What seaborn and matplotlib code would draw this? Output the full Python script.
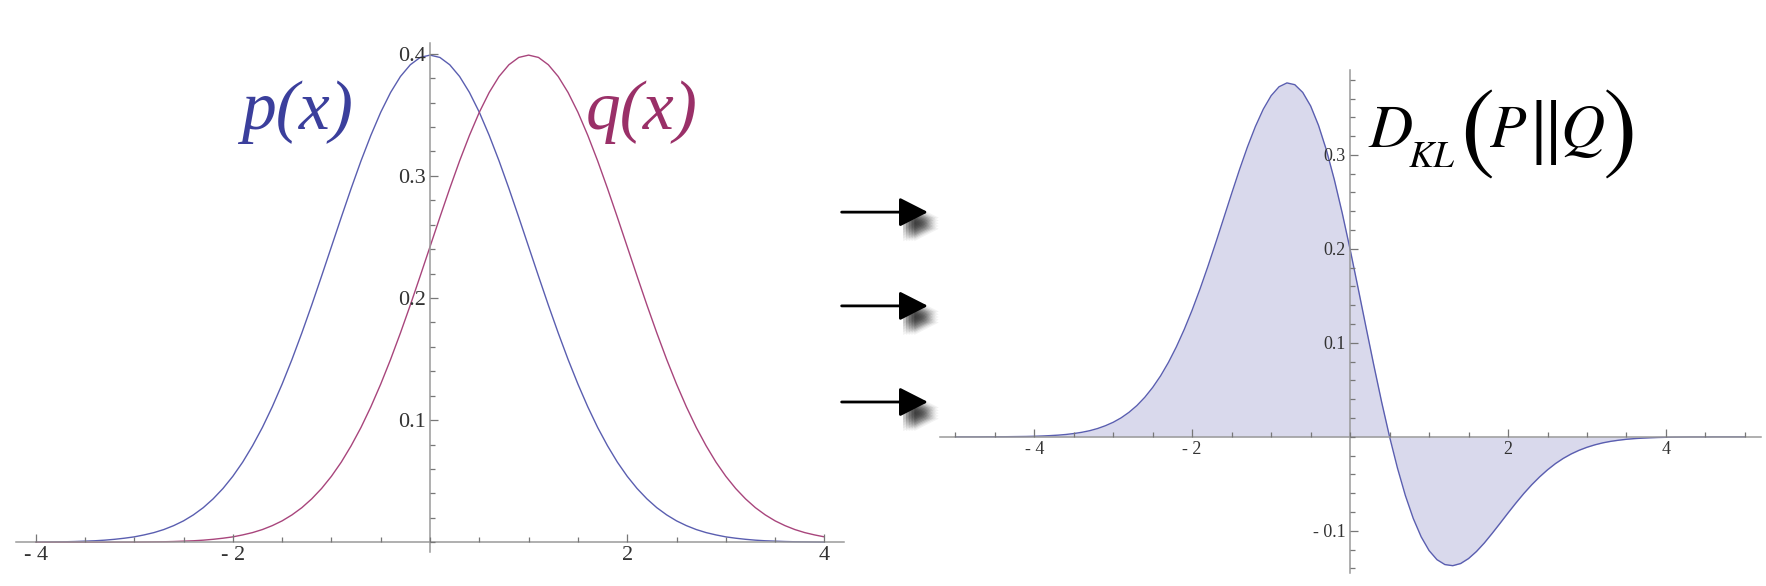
import numpy as np
import pandas as pd
import matplotlib
matplotlib.use("Agg")
import matplotlib.pyplot as plt
import matplotlib.patheffects as pe
from matplotlib.patches import FancyArrowPatch
from matplotlib.ticker import FixedLocator, MultipleLocator
import seaborn as sns

# ---- dados ----
x_esq = [-4.0, -3.9, -3.8, -3.7, -3.6, -3.5, -3.4, -3.3, -3.2, -3.1,
         -3.0, -2.9, -2.8, -2.7, -2.6, -2.5, -2.4, -2.3, -2.2, -2.1,
         -2.0, -1.9, -1.8, -1.7, -1.6, -1.5, -1.4, -1.3, -1.2, -1.1,
         -1.0, -0.9, -0.8, -0.7, -0.6, -0.5, -0.4, -0.3, -0.2, -0.1,
         0.0, 0.1, 0.2, 0.3, 0.4, 0.5, 0.6, 0.7, 0.8, 0.9,
         1.0, 1.1, 1.2, 1.3, 1.4, 1.5, 1.6, 1.7, 1.8, 1.9,
         2.0, 2.1, 2.2, 2.3, 2.4, 2.5, 2.6, 2.7, 2.8, 2.9,
         3.0, 3.1, 3.2, 3.3, 3.4, 3.5, 3.6, 3.7, 3.8, 3.9, 4.0]
p_x = [0.0001, 0.0002, 0.0003, 0.0004, 0.0006, 0.0009, 0.0012, 0.0017, 0.0024, 0.0033,
       0.0044, 0.0060, 0.0079, 0.0104, 0.0136, 0.0175, 0.0224, 0.0283, 0.0355, 0.0440,
       0.0540, 0.0656, 0.0790, 0.0940, 0.1109, 0.1295, 0.1497, 0.1714, 0.1942, 0.2179,
       0.2420, 0.2661, 0.2897, 0.3123, 0.3332, 0.3521, 0.3683, 0.3814, 0.3910, 0.3970,
       0.3989, 0.3970, 0.3910, 0.3814, 0.3683, 0.3521, 0.3332, 0.3123, 0.2897, 0.2661,
       0.2420, 0.2179, 0.1942, 0.1714, 0.1497, 0.1295, 0.1109, 0.0940, 0.0790, 0.0656,
       0.0540, 0.0440, 0.0355, 0.0283, 0.0224, 0.0175, 0.0136, 0.0104, 0.0079, 0.0060,
       0.0044, 0.0033, 0.0024, 0.0017, 0.0012, 0.0009, 0.0006, 0.0004, 0.0003, 0.0002, 0.0001]
q_x = [0.0000, 0.0000, 0.0000, 0.0000, 0.0000, 0.0000, 0.0000, 0.0000, 0.0001, 0.0001,
       0.0001, 0.0002, 0.0003, 0.0004, 0.0006, 0.0009, 0.0012, 0.0017, 0.0024, 0.0033,
       0.0044, 0.0060, 0.0079, 0.0104, 0.0136, 0.0175, 0.0224, 0.0283, 0.0355, 0.0440,
       0.0540, 0.0656, 0.0790, 0.0940, 0.1109, 0.1295, 0.1497, 0.1714, 0.1942, 0.2179,
       0.2420, 0.2661, 0.2897, 0.3123, 0.3332, 0.3521, 0.3683, 0.3814, 0.3910, 0.3970,
       0.3989, 0.3970, 0.3910, 0.3814, 0.3683, 0.3521, 0.3332, 0.3123, 0.2897, 0.2661,
       0.2420, 0.2179, 0.1942, 0.1714, 0.1497, 0.1295, 0.1109, 0.0940, 0.0790, 0.0656,
       0.0540, 0.0440, 0.0355, 0.0283, 0.0224, 0.0175, 0.0136, 0.0104, 0.0079, 0.0060, 0.0044]

x_dir = [-5.0, -4.9, -4.8, -4.7, -4.6, -4.5, -4.4, -4.3, -4.2, -4.1,
         -4.0, -3.9, -3.8, -3.7, -3.6, -3.5, -3.4, -3.3, -3.2, -3.1,
         -3.0, -2.9, -2.8, -2.7, -2.6, -2.5, -2.4, -2.3, -2.2, -2.1,
         -2.0, -1.9, -1.8, -1.7, -1.6, -1.5, -1.4, -1.3, -1.2, -1.1,
         -1.0, -0.9, -0.8, -0.7, -0.6, -0.5, -0.4, -0.3, -0.2, -0.1,
         0.0, 0.1, 0.2, 0.3, 0.4, 0.5, 0.6, 0.7, 0.8, 0.9,
         1.0, 1.1, 1.2, 1.3, 1.4, 1.5, 1.6, 1.7, 1.8, 1.9,
         2.0, 2.1, 2.2, 2.3, 2.4, 2.5, 2.6, 2.7, 2.8, 2.9,
         3.0, 3.1, 3.2, 3.3, 3.4, 3.5, 3.6, 3.7, 3.8, 3.9,
         4.0, 4.1, 4.2, 4.3, 4.4, 4.5, 4.6, 4.7, 4.8, 4.9, 5.0]
dkl = [0.0000, 0.0000, 0.0000, 0.0000, 0.0001, 0.0001, 0.0001, 0.0002, 0.0003, 0.0004,
       0.0006, 0.0009, 0.0013, 0.0018, 0.0025, 0.0035, 0.0048, 0.0065, 0.0088, 0.0118,
       0.0155, 0.0202, 0.0261, 0.0333, 0.0421, 0.0526, 0.0649, 0.0793, 0.0958, 0.1144,
       0.1350, 0.1575, 0.1816, 0.2069, 0.2329, 0.2590, 0.2845, 0.3085, 0.3301, 0.3486,
       0.3630, 0.3725, 0.3766, 0.3747, 0.3665, 0.3521, 0.3314, 0.3051, 0.2737, 0.2382,
       0.1995, 0.1588, 0.1173, 0.0763, 0.0368, 0.0000, -0.0333, -0.0625, -0.0869, -0.1064,
       -0.1210, -0.1307, -0.1359, -0.1371, -0.1348, -0.1295, -0.1220, -0.1129, -0.1026, -0.0919,
       -0.0810, -0.0704, -0.0603, -0.0510, -0.0426, -0.0351, -0.0285, -0.0229, -0.0182, -0.0143,
       -0.0111, -0.0085, -0.0064, -0.0048, -0.0036, -0.0026, -0.0019, -0.0014, -0.0010, -0.0007,
       -0.0005, -0.0003, -0.0002, -0.0001, -0.0001, -0.0001, 0.0000, 0.0000, 0.0000, 0.0000, 0.0000]

xt_esq = [-4, -2, 2, 4]
xt_esq_txt = ["- 4", "- 2", "2", "4"]
yt_esq = [0.1, 0.2, 0.3, 0.4]
yt_esq_txt = ["0.1", "0.2", "0.3", "0.4"]
xt_dir = [-4, -2, 2, 4]
xt_dir_txt = ["- 4", "- 2", "2", "4"]
yt_dir = [-0.1, 0.1, 0.2, 0.3]
yt_dir_txt = ["- 0.1", "0.1", "0.2", "0.3"]

df_esq = pd.DataFrame({"x": x_esq + x_esq, "y": p_x + q_x,
                       "curva": ["p"] * len(x_esq) + ["q"] * len(x_esq)})
df_dir = pd.DataFrame({"x": x_dir, "y": dkl})

# ---- estilo ----
sns.set_style("white")
plt.rcParams["font.family"] = ["Liberation Serif", "DejaVu Serif"]

cor_p = "#5a5eb0"
cor_q = "#a8457c"
cor_eixo = "#9a9a9a"

fig = plt.figure(figsize=(17.66, 5.86), dpi=100)
ax1 = fig.add_axes([0.009, 0.058, 0.469, 0.869])
ax2 = fig.add_axes([0.532, 0.022, 0.465, 0.858])


def eixos_mathematica(ax, xt, xt_txt, yt, yt_txt, fs):
    for lado in ["top", "right"]:
        ax.spines[lado].set_visible(False)
    ax.spines["left"].set_position(("data", 0))
    ax.spines["bottom"].set_position(("data", 0))
    for lado in ["left", "bottom"]:
        ax.spines[lado].set_color(cor_eixo)
        ax.spines[lado].set_linewidth(1.1)
    ax.xaxis.set_major_locator(FixedLocator(xt))
    ax.set_xticklabels(xt_txt)
    ax.yaxis.set_major_locator(FixedLocator(yt))
    ax.set_yticklabels(yt_txt)
    ax.xaxis.set_minor_locator(MultipleLocator(0.5))
    ax.yaxis.set_minor_locator(MultipleLocator(0.02))
    ax.tick_params(which="both", direction="in", color="#777777", width=0.9,
                   bottom=True, left=True, labelcolor="#333333", labelsize=fs, pad=3)
    ax.tick_params(which="major", length=6)
    ax.tick_params(which="minor", length=3.5)
    ax.set_xlabel("")
    ax.set_ylabel("")
    ax.set_axisbelow(False)
    ax.patch.set_alpha(0)


# ---- painel esquerdo ----
sns.lineplot(data=df_esq, x="x", y="y", hue="curva", palette=[cor_p, cor_q],
             linewidth=1.0, legend=False, ax=ax1, sort=False)
ax1.set_xlim(-4.2, 4.2)
ax1.set_ylim(-0.008, 0.409)
eixos_mathematica(ax1, xt_esq, xt_esq_txt, yt_esq, yt_esq_txt, 16)
ax1.text(-1.35, 0.352, "p(x)", color="#3b3f9c", fontsize=50, style="italic",
         ha="center", va="center")
ax1.text(2.15, 0.352, "q(x)", color="#9a3068", fontsize=50, style="italic",
         ha="center", va="center")

# ---- painel direito ----
ax2.fill_between(x_dir, dkl, 0, color="#d9d9ec", linewidth=0)
sns.lineplot(data=df_dir, x="x", y="y", color=cor_p, linewidth=1.0, ax=ax2, sort=False)
ax2.set_xlim(-5.2, 5.2)
ax2.set_ylim(-0.145, 0.39)
eixos_mathematica(ax2, xt_dir, xt_dir_txt, yt_dir, yt_dir_txt, 13)

# D_KL(P||Q) montado peça por peça (posições em pixels da figura)
W, H = 1766, 586
pecas = [("D", 1368, 147, 44, "italic"),
         ("KL", 1409, 167, 27, "italic"),
         ("(", 1460, 161, 74, "normal"),
         ("P", 1490, 147, 43, "italic"),
         ("\u2016", 1526, 151, 53, "normal"),
         ("Q", 1560, 147, 44, "italic"),
         (")", 1603, 161, 74, "normal")]
for txt, px, py, fs, est in pecas:
    fig.text(px / W, 1 - py / H, txt, fontsize=fs, style=est, family="STIXGeneral",
             color="black", ha="left", va="baseline")

# ---- setas com sombra ----
sombra = [pe.SimplePatchShadow(offset=(dx, dy), shadow_rgbFace="#000000", alpha=0.05)
          for dx in (2, 4, 6, 8, 10) for dy in (-4, -6, -8, -10, -12)]
for yf in [0.638, 0.478, 0.314]:
    seta = FancyArrowPatch((0.475, yf), (0.527, yf), transform=fig.transFigure,
                           arrowstyle="-|>,head_length=1.1,head_width=0.56",
                           mutation_scale=16, color="black", linewidth=2.0,
                           path_effects=sombra + [pe.Normal()])
    fig.add_artist(seta)

fig.savefig("out.png", dpi=100, facecolor="white")
